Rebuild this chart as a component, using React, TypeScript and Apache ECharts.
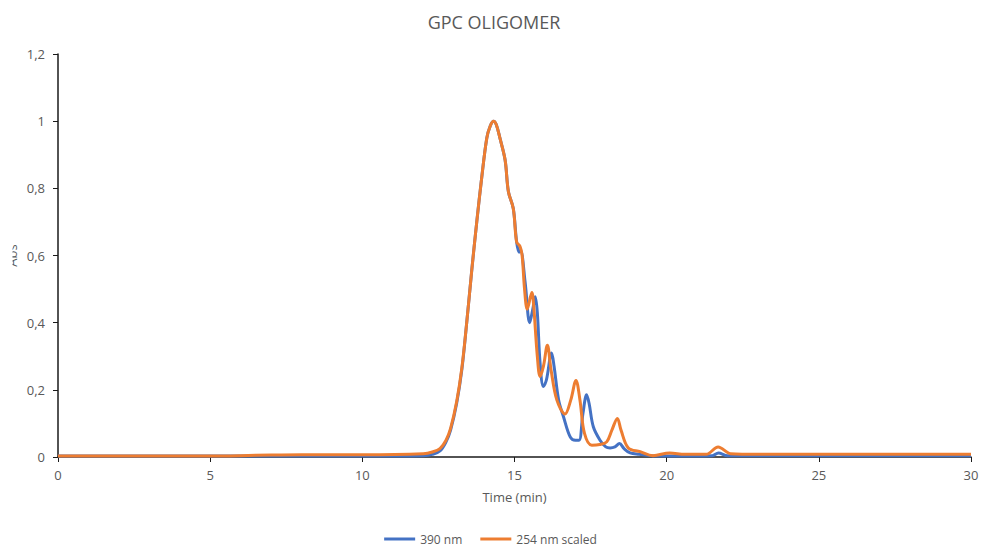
import React, { useEffect, useRef } from "react";
import * as echarts from "echarts";

const title = "GPC OLIGOMER";
const xName = "Time (min)";
const yName = "Abs";
const seriesNames = ["390 nm", "254 nm scaled"];

const blue390: [number, number][] = [
  [0, 0.003], [5, 0.003], [10, 0.003], [12, 0.004], [12.3, 0.008], [12.55, 0.018],
  [12.75, 0.045], [12.9, 0.08], [13.1, 0.16], [13.27, 0.26], [13.43, 0.4], [13.6, 0.56],
  [13.76, 0.7], [13.92, 0.83], [14.09, 0.95], [14.2, 0.985], [14.31, 1.0], [14.4, 0.99],
  [14.52, 0.95], [14.69, 0.885], [14.8, 0.79], [14.96, 0.74], [15.07, 0.64], [15.15, 0.61],
  [15.2, 0.615], [15.35, 0.52], [15.5, 0.4], [15.6, 0.44], [15.68, 0.477], [15.75, 0.43],
  [15.84, 0.28], [15.95, 0.21], [16.05, 0.23], [16.22, 0.31], [16.3, 0.27], [16.45, 0.17],
  [16.61, 0.12], [16.83, 0.06], [17.0, 0.05], [17.12, 0.05], [17.25, 0.13], [17.37, 0.185],
  [17.45, 0.16], [17.59, 0.09], [17.81, 0.05], [18.0, 0.03], [18.14, 0.027], [18.3, 0.03],
  [18.45, 0.04], [18.6, 0.025], [18.8, 0.012], [19.1, 0.008], [19.5, 0.004], [20, 0.003],
  [21.5, 0.004], [21.7, 0.012], [22, 0.004], [25, 0.004], [30, 0.004],
];

const orange254: [number, number][] = [
  [0, 0.003], [5, 0.003], [6, 0.004], [7, 0.006], [8, 0.007], [10, 0.007], [12, 0.01],
  [12.3, 0.015], [12.55, 0.025], [12.75, 0.05], [12.9, 0.085], [13.1, 0.165], [13.27, 0.265],
  [13.43, 0.4], [13.6, 0.56], [13.76, 0.7], [13.92, 0.83], [14.09, 0.95], [14.2, 0.985],
  [14.31, 1.0], [14.4, 0.99], [14.52, 0.95], [14.69, 0.885], [14.8, 0.79], [14.96, 0.74],
  [15.07, 0.64], [15.18, 0.627], [15.25, 0.6], [15.33, 0.5], [15.42, 0.44], [15.57, 0.49],
  [15.63, 0.45], [15.75, 0.3], [15.84, 0.24], [15.95, 0.27], [16.08, 0.333], [16.2, 0.26],
  [16.39, 0.17], [16.66, 0.128], [16.85, 0.17], [17.02, 0.228], [17.15, 0.17], [17.3, 0.07],
  [17.54, 0.035], [17.8, 0.037], [18.03, 0.045], [18.2, 0.08], [18.38, 0.115], [18.5, 0.08],
  [18.74, 0.027], [19.13, 0.016], [19.55, 0.004], [20.1, 0.012], [20.6, 0.008], [21.3, 0.008],
  [21.69, 0.03], [22.1, 0.01], [23, 0.008], [30, 0.008],
];

const colors = ["#4472C4", "#ED7D31"];
const FONT = "'Open Sans', 'Liberation Sans', sans-serif";
const GREY = "#595959";

export default function App() {
  const ref = useRef<HTMLDivElement>(null);
  useEffect(() => {
    if (!ref.current) return;
    const chart = echarts.init(ref.current, undefined, { renderer: "svg" });
    chart.setOption({
      animation: false,
      backgroundColor: "#ffffff",
      color: colors,
      title: {
        text: title,
        left: 489,
        top: 8,
        textAlign: "center",
        textStyle: { fontFamily: FONT, fontSize: 18, fontWeight: "normal", color: GREY },
      },
      grid: { left: 58, right: 10, top: 54, bottom: 89, containLabel: false, outerBoundsMode: "none" },
      legend: {
        top: 528,
        left: "center",
        icon: "rect",
        itemWidth: 31,
        itemHeight: 3,
        itemGap: 18,
        textStyle: { fontFamily: FONT, fontSize: 12, color: GREY },
        data: seriesNames,
      },
      xAxis: {
        type: "value",
        min: 0,
        max: 30,
        interval: 5,
        name: xName,
        nameLocation: "middle",
        nameGap: 33,
        nameMoveOverlap: false,
        nameTextStyle: { fontFamily: FONT, fontSize: 13, color: GREY },
        splitLine: { show: false },
        axisLine: { lineStyle: { color: "#1a1a1a", width: 1.5 } },
        axisTick: { show: true, length: 5, lineStyle: { color: "#1a1a1a" } },
        axisLabel: { fontFamily: FONT, fontSize: 13, color: GREY, margin: 11 },
      },
      yAxis: {
        type: "value",
        min: 0,
        max: 1.2,
        interval: 0.2,
        name: yName,
        nameLocation: "middle",
        nameGap: 40,
        nameMoveOverlap: false,
        nameTextStyle: { fontFamily: FONT, fontSize: 13, color: GREY },
        splitLine: { show: false },
        axisLine: { show: true, lineStyle: { color: "#1a1a1a", width: 1.5 } },
        axisTick: { show: true, length: 5, lineStyle: { color: "#1a1a1a" } },
        axisLabel: {
          fontFamily: FONT,
          fontSize: 13,
          color: GREY,
          margin: 13,
          formatter: (v: number) => String(Math.round(v * 10) / 10).replace(".", ","),
        },
      },
      graphic: [
        {
          type: "rect",
          z: 100,
          left: 0,
          top: 225,
          shape: { width: 12.5, height: 60 },
          style: { fill: "#ffffff" },
        },
      ],
      series: [
        {
          name: seriesNames[0],
          type: "line",
          data: blue390,
          showSymbol: false,
          smooth: 0.35,
          lineStyle: { width: 3, color: colors[0] },
          itemStyle: { color: colors[0] },
        },
        {
          name: seriesNames[1],
          type: "line",
          data: orange254,
          showSymbol: false,
          smooth: 0.35,
          lineStyle: { width: 3, color: colors[1] },
          itemStyle: { color: colors[1] },
        },
      ],
    });
    return () => chart.dispose();
  }, []);
  return (
    <div
      ref={ref}
      style={{ position: "fixed", left: 0, top: 0, width: 981, height: 546 }}
    />
  );
}
